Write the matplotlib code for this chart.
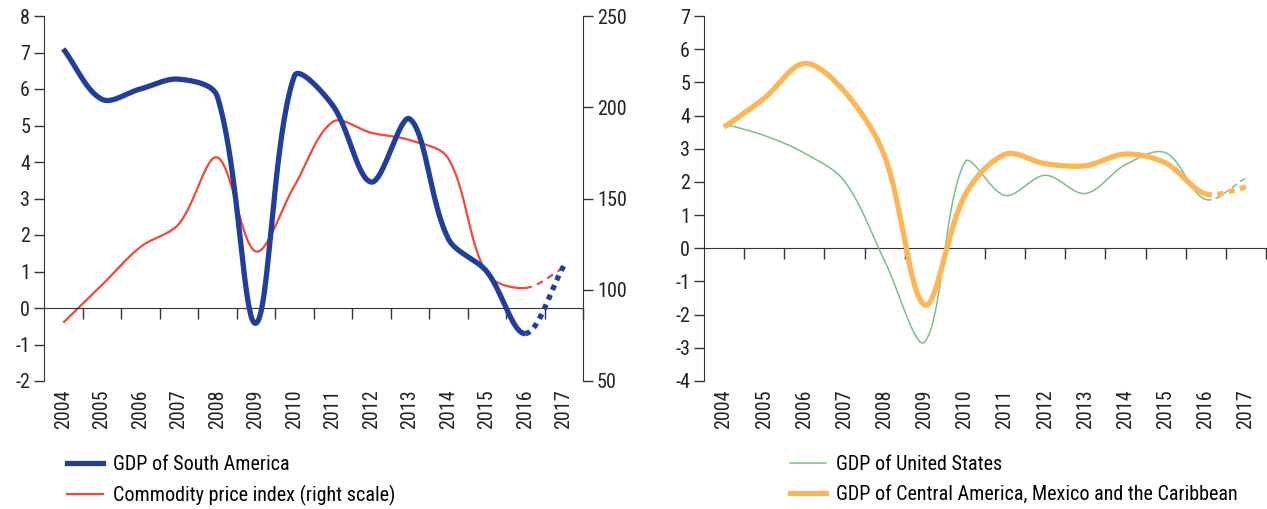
import numpy as np
import matplotlib
matplotlib.use("Agg")
import matplotlib.pyplot as plt
from matplotlib import font_manager

names = {f.name for f in font_manager.fontManager.ttflist}
fam = [n for n in ["Roboto Condensed", "Archivo Narrow", "Barlow Condensed", "DejaVu Sans"] if n in names]
plt.rcParams['font.family'] = fam
plt.rcParams['font.size'] = 14.5

years = list(range(2004, 2018))
year_labels = [str(y) for y in years]

gdp_south_america = [7.1, 5.72, 6.0, 6.27, 5.8, -0.42, 6.35, 5.55, 3.45, 5.18, 1.9, 1.0, -0.7, 1.15]
commodity_index = [82, 102.5, 123.4, 136, 172.5, 121, 156.8, 192, 186, 182, 172, 109, 101, 112]

gdp_united_states = [3.75, 3.4, 2.87, 2.02, -0.38, -2.82, 2.6, 1.59, 2.2, 1.65, 2.52, 2.88, 1.47, 2.12]
gdp_central_america = [3.65, 4.52, 5.57, 4.72, 2.77, -1.71, 1.6, 2.83, 2.55, 2.49, 2.84, 2.57, 1.64, 1.84]

BLUE = "#1f3f9b"
RED = "#f0483a"
ORANGE = "#fdb655"
GREEN = "#7cbf86"
AX = "#333333"
FS = 14.5


def smooth(x, y, sx, sy, n=40, t=1 / 3):
    """Excel-like smoothed curve: Bezier segments, tangent parallel to the
    neighbour chord, control distance scaled by adjacent segment lengths
    (computed in pixel space via sx, sy)."""
    P = np.column_stack([np.asarray(x, float) * sx, np.asarray(y, float) * sy])
    m = len(P)
    tang_prev = []
    tang_next = []
    for i in range(m):
        p0 = P[max(i - 1, 0)]
        p2 = P[min(i + 1, m - 1)]
        p1 = P[i]
        d01 = np.hypot(*(p1 - p0))
        d12 = np.hypot(*(p2 - p1))
        tot = d01 + d12
        v = p2 - p0
        if tot == 0:
            tang_prev.append(p1)
            tang_next.append(p1)
            continue
        tang_prev.append(p1 - v * t * d01 / tot)
        tang_next.append(p1 + v * t * d12 / tot)
    segs = []
    tt = np.linspace(0, 1, n)[:, None]
    for i in range(m - 1):
        p1, p2 = P[i], P[i + 1]
        c1, c2 = tang_next[i], tang_prev[i + 1]
        b = ((1 - tt) ** 3) * p1 + 3 * ((1 - tt) ** 2) * tt * c1 + 3 * (1 - tt) * tt ** 2 * c2 + tt ** 3 * p2
        b[:, 0] /= sx
        b[:, 1] /= sy
        segs.append(b)
    return segs


def draw(ax, x, y, sx, sy, color, lw, dash):
    segs = smooth(x, y, sx, sy)
    solid = np.vstack(segs[:-1])
    ax.plot(solid[:, 0], solid[:, 1], color=color, lw=lw, solid_capstyle='butt',
            solid_joinstyle='round', zorder=3)
    last = segs[-1]
    ax.plot(last[:, 0], last[:, 1], color=color, lw=lw, linestyle=dash, dash_capstyle='butt', zorder=3)


def style_x(ax):
    ax.set_xlim(years[0] - 0.5, years[-1] + 0.5)
    ax.spines['top'].set_visible(False)
    ax.spines['bottom'].set_position(('data', 0))
    ax.spines['bottom'].set_color(AX)
    ax.spines['left'].set_color(AX)
    ax.set_xticks([y + 0.5 for y in years])
    ax.set_xticklabels([])
    ax.tick_params(axis='x', length=8, width=1, color=AX, direction='out')
    ax.tick_params(axis='y', length=7, width=1, color=AX, direction='out', pad=3, labelcolor='#222222')
    sec = ax.secondary_xaxis('bottom')
    sec.set_xticks(years)
    sec.set_xticklabels(year_labels, rotation=90, color='#222222')
    sec.tick_params(length=0, pad=6)
    sec.spines['bottom'].set_visible(False)


fig = plt.figure(figsize=(12.67, 5.09), dpi=100)

# Left panel
ax1 = fig.add_axes([44 / 1267, 1 - 381 / 509, 539 / 1267, 365 / 509])
ax1.set_ylim(-2, 8)
ax1.set_yticks(range(-2, 9))
ax1.set_yticklabels([str(v) for v in range(-2, 9)])
style_x(ax1)
ax1.spines['right'].set_visible(False)
ax2 = ax1.twinx()
ax2.set_ylim(50, 250)
ax2.set_yticks(range(50, 251, 50))
for s in ['top', 'bottom', 'left']:
    ax2.spines[s].set_visible(False)
ax2.spines['right'].set_color(AX)
ax2.tick_params(axis='y', length=7, width=1, color=AX, direction='out', pad=3, labelcolor='#222222')

# pixel scales for smoothing
sxl = 539 / 14
draw(ax2, years, commodity_index, sxl, 365 / 200, RED, 1.6, (0, (3, 2.5)))
draw(ax1, years, gdp_south_america, sxl, 365 / 10, BLUE, 3.8, (0, (1, 1)))
ax1.set_zorder(ax2.get_zorder() + 1)
ax1.patch.set_visible(False)

h1, = ax1.plot([], [], color=BLUE, lw=3.8)
h2, = ax1.plot([], [], color=RED, lw=1.6)
fig.legend([h1, h2], ["GDP of South America", "Commodity price index (right scale)"],
           loc='upper left', bbox_to_anchor=(67 / 1267, 1 - 455 / 509), frameon=False,
           borderpad=0, borderaxespad=0, handlelength=1.8, handletextpad=0.5,
           labelspacing=0.55, fontsize=FS)

# Right panel
ax3 = fig.add_axes([704 / 1267, 1 - 381 / 509, 562 / 1267, 365 / 509])
ax3.set_ylim(-4, 7)
ax3.set_yticks(range(-4, 8))
ax3.set_yticklabels([str(v) for v in range(-4, 8)])
style_x(ax3)
ax3.spines['right'].set_visible(False)

sxr = 562 / 14
syr = 365 / 11
draw(ax3, years, gdp_united_states, sxr, syr, GREEN, 1.1, (0, (4, 2.5)))
draw(ax3, years, gdp_central_america, sxr, syr, ORANGE, 3.8, (0, (1.2, 1)))

h3, = ax3.plot([], [], color=GREEN, lw=1.1)
h4, = ax3.plot([], [], color=ORANGE, lw=3.8)
fig.legend([h3, h4], ["GDP of United States", "GDP of Central America, Mexico and the Caribbean"],
           loc='upper left', bbox_to_anchor=(790 / 1267, 1 - 455 / 509), frameon=False,
           borderpad=0, borderaxespad=0, handlelength=1.8, handletextpad=0.5,
           labelspacing=0.55, fontsize=FS)

fig.savefig("out.png", dpi=100)
